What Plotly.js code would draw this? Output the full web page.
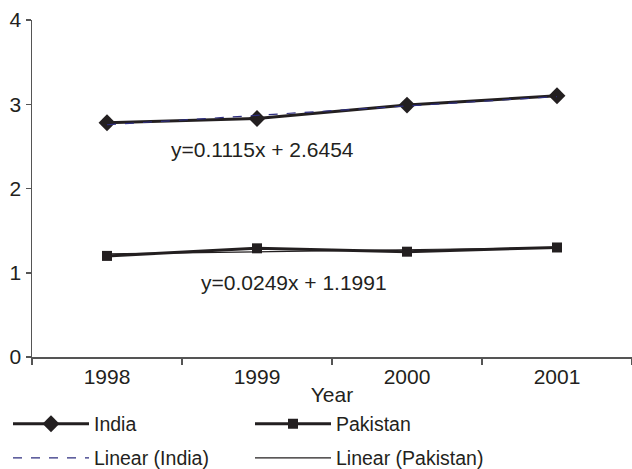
<!DOCTYPE html>
<html>
<head>
<meta charset="utf-8">
<script src="https://cdn.plot.ly/plotly-3.0.1.min.js"></script>
<style>html,body{margin:0;padding:0;background:#fff;}#chart{width:632px;height:469px;}</style>
</head>
<body>
<div id="chart"></div>
<script>
var years = ['1998', '1999', '2000', '2001'];
var india = [2.78, 2.83, 2.99, 3.10];
var pakistan = [1.20, 1.29, 1.25, 1.30];
var indiaTrend = [0.1115, 2.6454];     // slope, intercept as printed
var pakistanTrend = [0.0249, 1.1991];  // slope, intercept as printed
var indiaEq = 'y=0.1115x + 2.6454';
var pakistanEq = 'y=0.0249x + 1.1991';
var yTicks = [0, 1, 2, 3, 4];

function trendValues(coef) {
  return years.map(function (_, i) { return coef[0] * (i + 1) + coef[1]; });
}

var FONT = 'Liberation Sans, Arial, sans-serif';
var INK = '#231f20';
var FS = 21;

var traces = [
  {x: years, y: india, name: 'India', type: 'scatter', mode: 'lines+markers',
   line: {color: INK, width: 3}, marker: {symbol: 'diamond', size: 13, color: INK},
   legend: 'legend'},
  {x: years, y: pakistan, name: 'Pakistan', type: 'scatter', mode: 'lines+markers',
   line: {color: INK, width: 3}, marker: {symbol: 'square', size: 10, color: INK},
   legend: 'legend'},
  {x: years, y: trendValues(indiaTrend), name: 'Linear (India)', type: 'scatter', mode: 'lines',
   line: {color: '#2e2e80', width: 1.2, dash: 'dash'}, legend: 'legend2'},
  {x: years, y: trendValues(pakistanTrend), name: 'Linear (Pakistan)', type: 'scatter', mode: 'lines',
   line: {color: INK, width: 1.2}, legend: 'legend2'}
];

var legendBase = {
  orientation: 'h', xanchor: 'left', yanchor: 'middle', x: -0.04,
  font: {family: FONT, size: 19.5, color: INK}, entrywidth: 151, entrywidthmode: 'pixels',
  itemwidth: 76, bgcolor: 'rgba(0,0,0,0)', traceorder: 'normal'
};

var layout = {
  width: 632, height: 469,
  margin: {l: 32, r: 0, t: 20, b: 112, autoexpand: false},
  paper_bgcolor: '#fff', plot_bgcolor: '#fff',
  font: {family: FONT, size: FS, color: INK},
  showlegend: true,
  xaxis: {
    type: 'category', range: [-0.5, 3.5], showgrid: false, zeroline: false,
    showline: true, linecolor: '#555', linewidth: 1.5,
    ticks: 'outside', tickson: 'boundaries', ticklen: 6, tickcolor: '#555', tickwidth: 1.5,
    tickfont: {family: FONT, size: FS, color: INK},
    title: {text: 'Year', font: {family: FONT, size: FS, color: INK}, standoff: 0}
  },
  yaxis: {
    range: [0, 4], tickvals: yTicks, showgrid: false, zeroline: false,
    showline: true, linecolor: '#555', linewidth: 1.5,
    ticks: 'outside', ticklen: 5, tickcolor: '#555', tickwidth: 1.5,
    tickfont: {family: FONT, size: FS, color: INK}
  },
  legend: Object.assign({}, legendBase, {y: -0.199}),
  legend2: Object.assign({}, legendBase, {y: -0.30}),
  annotations: [
    {xref: 'paper', yref: 'y', x: 0.228, y: 2.46, xanchor: 'left', yanchor: 'middle',
     text: indiaEq, showarrow: false, font: {family: FONT, size: FS, color: INK}},
    {xref: 'paper', yref: 'y', x: 0.278, y: 0.88, xanchor: 'left', yanchor: 'middle',
     text: pakistanEq, showarrow: false, font: {family: FONT, size: FS, color: INK}}
  ]
};

Plotly.newPlot('chart', traces, layout, {displayModeBar: false, staticPlot: true});
</script>
</body>
</html>
